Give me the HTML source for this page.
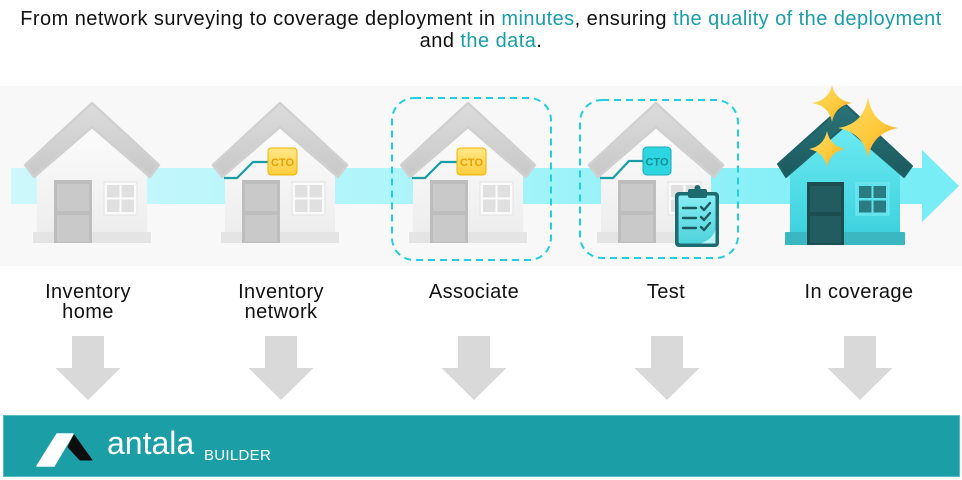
<!DOCTYPE html>
<html><head><meta charset="utf-8"><style>
html,body{margin:0;padding:0;background:#fff;}
svg{display:block;}
text{font-family:"Liberation Sans",sans-serif;}
</style></head><body>
<svg width="962" height="480" viewBox="0 0 962 480" xmlns="http://www.w3.org/2000/svg">
<defs>
  <linearGradient id="band" x1="0" x2="1" y1="0" y2="0">
    <stop offset="0" stop-color="#cdf8fc"/>
    <stop offset="0.5" stop-color="#a8f4fa"/>
    <stop offset="1" stop-color="#78edf6"/>
  </linearGradient>
  <linearGradient id="roofG" x1="0" x2="0" y1="0" y2="1">
    <stop offset="0" stop-color="#dcdcdc"/>
    <stop offset="1" stop-color="#c8c8c8"/>
  </linearGradient>
  <linearGradient id="wallG" x1="0" x2="0" y1="0" y2="1">
    <stop offset="0" stop-color="#fcfcfc"/>
    <stop offset="1" stop-color="#ededed"/>
  </linearGradient>
  <linearGradient id="roofC" x1="0" x2="0" y1="0" y2="1">
    <stop offset="0" stop-color="#2a7479"/>
    <stop offset="1" stop-color="#1b5a5e"/>
  </linearGradient>
  <linearGradient id="wallC" x1="0" x2="0" y1="0" y2="1">
    <stop offset="0" stop-color="#6ceaf2"/>
    <stop offset="1" stop-color="#3ed2de"/>
  </linearGradient>
  <linearGradient id="star" x1="0" x2="1" y1="0" y2="1">
    <stop offset="0" stop-color="#ffe066"/>
    <stop offset="0.6" stop-color="#ffc83a"/>
    <stop offset="1" stop-color="#f39a1e"/>
  </linearGradient>
  <linearGradient id="cto" x1="0" x2="0" y1="0" y2="1">
    <stop offset="0" stop-color="#ffe889"/>
    <stop offset="1" stop-color="#ffcc3c"/>
  </linearGradient>
  <linearGradient id="paper" x1="0" x2="0" y1="0" y2="1">
    <stop offset="0" stop-color="#86ecf2"/>
    <stop offset="1" stop-color="#4fd2dc"/>
  </linearGradient>
  <g id="hg">
    <polygon points="0,127 -55,173 -55,233 55,233 55,173" fill="url(#wallG)"/>
    <polygon points="0,103 -67,165 -58,177 0,127 58,177 67,165" fill="url(#roofG)" stroke="#d0d0d0" stroke-width="2.5" stroke-linejoin="round"/>
    <rect x="-59" y="232" width="118" height="11" rx="1" fill="#e4e4e4"/>
    <rect x="-38" y="180" width="38" height="63" fill="#bdbdbd"/>
    <rect x="-35" y="184" width="32" height="27" fill="#c9c9c9"/>
    <rect x="-35" y="215" width="32" height="27" fill="#c9c9c9"/>
    <rect x="12" y="182" width="33" height="33" fill="#fbfbfb" stroke="#e2e2e2" stroke-width="1"/>
    <rect x="15" y="185" width="12.5" height="12.5" fill="#e0e0e0"/>
    <rect x="29.5" y="185" width="12.5" height="12.5" fill="#e0e0e0"/>
    <rect x="15" y="199.5" width="12.5" height="12.5" fill="#e0e0e0"/>
    <rect x="29.5" y="199.5" width="12.5" height="12.5" fill="#e0e0e0"/>
  </g>
</defs>

<!-- Title -->
<text x="481" y="25" font-size="20" letter-spacing="0.45" text-anchor="middle" fill="#111111">From network surveying to coverage deployment in <tspan fill="#1a9ea6">minutes</tspan>, ensuring <tspan fill="#1a9ea6">the quality of the deployment</tspan></text>
<text x="481" y="47" font-size="20" letter-spacing="0.45" text-anchor="middle" fill="#111111">and <tspan fill="#1a9ea6">the data</tspan>.</text>

<!-- Panel -->
<rect x="0" y="86" width="962" height="180" fill="#f8f8f8"/>

<!-- Cyan arrow band -->
<rect x="11" y="168" width="913" height="36" fill="url(#band)"/>
<polygon points="922,150 959,186 922,222" fill="#78edf6"/>

<!-- Houses -->
<use href="#hg" x="92" y="0"/>
<use href="#hg" x="280" y="0"/>
<use href="#hg" x="468" y="0"/>
<use href="#hg" x="656" y="0"/>

<!-- CTO house 2 -->
<polyline points="224,178 237,178 253,162 268,162" fill="none" stroke="#1a9ea6" stroke-width="2.2"/>
<rect x="268" y="148" width="29" height="27" rx="3.5" fill="url(#cto)" stroke="#f0b400" stroke-width="1"/>
<text x="282.5" y="166" font-size="11" font-weight="bold" text-anchor="middle" fill="#e8a000">CTO</text>

<!-- CTO house 3 -->
<polyline points="412,178 425,178 441,162 457,162" fill="none" stroke="#1a9ea6" stroke-width="2.2"/>
<rect x="457" y="148" width="29" height="27" rx="3.5" fill="url(#cto)" stroke="#f0b400" stroke-width="1"/>
<text x="471.5" y="166" font-size="11" font-weight="bold" text-anchor="middle" fill="#e8a000">CTO</text>

<!-- CTO house 4 -->
<polyline points="600,178 613,178 629,161 643,161" fill="none" stroke="#1a9ea6" stroke-width="2.2"/>
<rect x="643" y="147" width="28" height="28" rx="4" fill="#2dd5e1" stroke="#1aa9b3" stroke-width="1"/>
<text x="657" y="165.5" font-size="11" font-weight="bold" text-anchor="middle" fill="#178f98">CTO</text>

<!-- Clipboard -->
<rect x="675" y="192" width="44" height="55" rx="4" fill="#1d6a70"/>
<rect x="678.5" y="195.5" width="37" height="48" rx="2" fill="url(#paper)"/>
<path d="M700,243.5 L715.5,243.5 L715.5,230 Q712,240 700,243.5 Z" fill="#b8f4f7"/>
<rect x="688" y="189" width="19" height="9" rx="2" fill="#1d6a70"/>
<circle cx="697.5" cy="188" r="3" fill="#1d6a70"/>
<g stroke="#1d5a60" stroke-width="2.4" fill="none" stroke-linecap="round" stroke-linejoin="round">
  <line x1="683" y1="208" x2="696" y2="208"/>
  <line x1="683" y1="218" x2="696" y2="218"/>
  <line x1="683" y1="228" x2="696" y2="228"/>
  <polyline points="701,207 704,210 710,203"/>
  <polyline points="701,217 704,220 710,213"/>
  <polyline points="701,227 704,230 710,223"/>
</g>

<!-- Dashed boxes -->
<rect x="392" y="98" width="159" height="162" rx="22" fill="none" stroke="#22cfe0" stroke-width="2" stroke-dasharray="7 5"/>
<rect x="580" y="100" width="158" height="158" rx="22" fill="none" stroke="#22cfe0" stroke-width="2" stroke-dasharray="7 5"/>

<!-- Coverage house -->
<g transform="translate(845,0)">
  <polygon points="0,126 -55,172 -55,233 55,233 55,172" fill="url(#wallC)"/>
  <polygon points="0,104 -67,164 -59,177 0,126 59,177 67,166" fill="url(#roofC)" stroke="#1f6166" stroke-width="2" stroke-linejoin="round"/>
  <rect x="-60" y="232" width="120" height="13" rx="1" fill="#3ab7c1"/>
  <rect x="-38" y="182" width="37" height="63" fill="#1c4d51"/>
  <rect x="-35" y="186" width="31" height="26" fill="#235c60"/>
  <rect x="-35" y="216" width="31" height="27" fill="#235c60"/>
  <rect x="11" y="183" width="33" height="32" fill="#5fe3ec" stroke="#7aeaf1" stroke-width="1"/>
  <rect x="14" y="186" width="12.5" height="12" fill="#2b7c82"/>
  <rect x="28.5" y="186" width="12.5" height="12" fill="#2b7c82"/>
  <rect x="14" y="200.5" width="12.5" height="12" fill="#2b7c82"/>
  <rect x="28.5" y="200.5" width="12.5" height="12" fill="#2b7c82"/>
</g>

<!-- Stars -->
<path d="M832,85 Q835,100 852,103 Q835,106 832,122 Q829,106 812,103 Q829,100 832,85 Z" fill="url(#star)"/>
<path d="M868,97 Q872,124 898,128 Q872,133 868,158 Q864,133 838,128 Q864,124 868,97 Z" fill="url(#star)"/>
<path d="M827,131 Q830,146 845,149 Q830,152 827,167 Q824,152 809,149 Q824,146 827,131 Z" fill="url(#star)"/>

<!-- Labels -->
<g font-size="20" letter-spacing="0.4" fill="#111111" text-anchor="middle">
  <text x="88" y="298">Inventory</text>
  <text x="88" y="318">home</text>
  <text x="281" y="298">Inventory</text>
  <text x="281" y="318">network</text>
  <text x="474" y="298">Associate</text>
  <text x="666" y="298">Test</text>
  <text x="859" y="298">In coverage</text>
</g>

<!-- Down arrows -->
<g fill="#d9d9d9">
  <polygon points="72,336 104,336 104,368 120.5,368 88,400 55.5,368 72,368"/>
  <polygon points="265,336 297,336 297,368 313.5,368 281,400 248.5,368 265,368"/>
  <polygon points="458,336 490,336 490,368 506.5,368 474,400 441.5,368 458,368"/>
  <polygon points="651,336 683,336 683,368 699.5,368 667,400 634.5,368 651,368"/>
  <polygon points="844,336 876,336 876,368 892.5,368 860,400 827.5,368 844,368"/>
</g>

<!-- Bottom band -->
<rect x="3.5" y="415.5" width="956" height="61" fill="#1c9ea6" stroke="#58bcc2" stroke-width="1"/>
<path d="M57,434 L73,434 L54,466 L37,466 Z" fill="#ffffff" stroke="#ffffff" stroke-width="1.5" stroke-linejoin="round"/>
<path d="M74,435 L92,460 L80,460 L68,447 Z" fill="#0d0d0d" stroke="#0d0d0d" stroke-width="1" stroke-linejoin="round"/>
<text x="107" y="454" font-size="32" fill="#ffffff">antala</text>
<text x="204" y="460" font-size="15" letter-spacing="0.3" fill="#ffffff">BUILDER</text>
</svg>
</body></html>
